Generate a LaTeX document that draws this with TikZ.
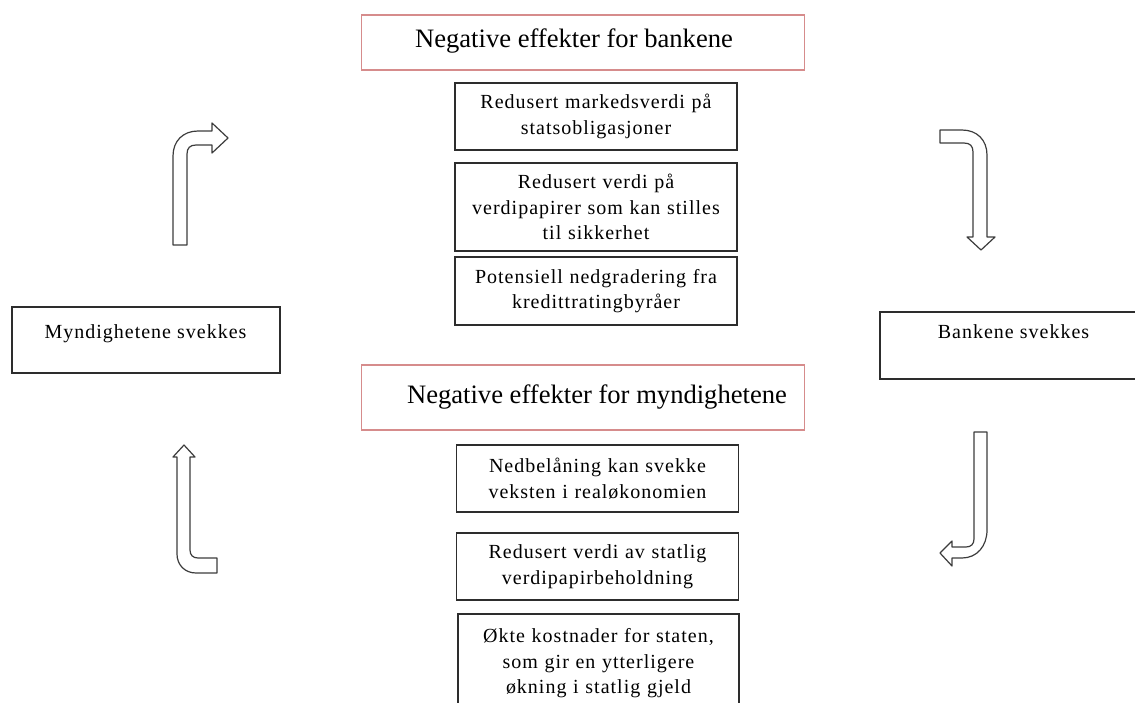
\documentclass[tikz,border=0pt]{standalone}
\usepackage{fontspec}
\setmainfont{Liberation Serif}
\newfontfamily\bodyfont[LetterSpace=5]{Liberation Serif}
\definecolor{redline}{RGB}{214,140,140}
\definecolor{boxline}{RGB}{45,45,45}
\definecolor{arrline}{RGB}{60,60,60}
\begin{document}
\begin{tikzpicture}[x=1pt,y=-1pt,
  box/.style={draw=boxline, line width=1.5pt, fill=white, inner sep=0pt, align=center,
    text width=276pt, minimum width=282pt,
    font=\bodyfont\fontsize{20}{25.5}\selectfont},
  sidebox/.style={draw=boxline, line width=1.8pt, inner sep=0pt},
  headbox/.style={draw=redline, line width=1.5pt, inner sep=0pt, minimum width=443pt},
  headtxt/.style={inner sep=0pt, anchor=base, font=\fontsize{26.6}{30}\selectfont},
  sidetxt/.style={inner sep=0pt, anchor=base, font=\bodyfont\fontsize{20}{26}\selectfont},
  blockarrow/.style={draw=arrline, line width=1.2pt, fill=white, line join=round}
]
\useasboundingbox (0,0) rectangle (1135,702);
\fill[white] (0,0) rectangle (1135,702);

% heading boxes
\node[headbox, minimum height=55pt] (h1) at (583,42.5) {};
\node[headtxt] (h1t) at (574,47) {Negative effekter for bankene};
\node[headbox, minimum height=65pt] (h2) at (583,397.5) {};
\node[headtxt] (h2t) at (597,403) {Negative effekter for myndighetene};

% upper boxes
\node[box, minimum height=67pt] (b1) at (596,116.5) {Redusert markedsverdi på\\statsobligasjoner};
\node[box, minimum height=88pt] (b2) at (596,207) {Redusert verdi på\\verdipapirer som kan stilles\\til sikkerhet};
\node[box, minimum height=68pt] (b3) at (596,291) {Potensiell nedgradering fra\\kredittratingbyråer};

% lower boxes
\node[box, minimum height=67pt] (b4) at (597.5,478.5) {Nedbelåning kan svekke\\veksten i realøkonomien};
\node[box, minimum height=67pt] (b5) at (597.5,566.5) {Redusert verdi av statlig\\verdipapirbeholdning};
\node[box, line width=2pt, minimum width=281pt, minimum height=99pt, anchor=north] (b6) at (598.5,613) {Økte kostnader for staten,\\som gir en ytterligere\\økning i statlig gjeld\\[34pt]};

% side boxes
\node[sidebox, minimum width=268pt, minimum height=66pt] (left) at (146,340) {};
\node[sidetxt] (leftt) at (145.5,338) {Myndighetene svekkes};
\node[sidebox, minimum width=266pt, minimum height=67pt, anchor=north west] (right) at (879,311) {};
\node[sidetxt] (rightt) at (1013.5,338) {Bankene svekkes};

% block arrows
% top-left (up then right)
\draw[blockarrow] (173,245) -- (173,156) .. controls (173,141) and (183,131) .. (198,131)
  -- (212,131) -- (212,123) -- (228,138) -- (212,153) -- (212,145) -- (196,145)
  .. controls (190,145) and (187,148) .. (187,154) -- (187,245) -- cycle;
% top-right (right then down)
\draw[blockarrow] (940,130) -- (962,130) .. controls (977,130) and (987,140) .. (987,155)
  -- (987,237) -- (995,237) -- (981,250) -- (967,237) -- (973,237) -- (973,152)
  .. controls (973,146) and (970,143) .. (964,143) -- (940,143) -- cycle;
% bottom-right (down then left)
\draw[blockarrow] (974,432) -- (987,432) -- (987,530) .. controls (987,546) and (977,558) .. (962,558)
  -- (952,558) -- (952,566) -- (940,553) -- (952,541) -- (952,547) -- (966,547)
  .. controls (971,547) and (974,544) .. (974,539) -- cycle;
% bottom-left (right then up)
\draw[blockarrow] (184,445) -- (195,457) -- (190,457) -- (190,550) .. controls (190,555) and (193,558) .. (198,558)
  -- (217,558) -- (217,573) -- (196,573) .. controls (185,573) and (177,565) .. (177,554)
  -- (177,457) -- (173,457) -- cycle;
\end{tikzpicture}
\end{document}
